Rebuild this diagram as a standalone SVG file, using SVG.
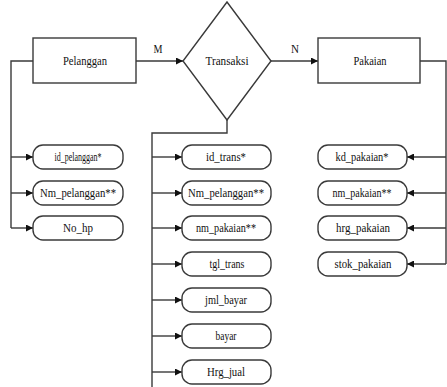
<svg xmlns="http://www.w3.org/2000/svg" width="447" height="387" viewBox="0 0 447 387">
<defs>
<style>
.ln{fill:none;stroke:#3a3a3a;stroke-width:1.4}
.bx{fill:#fff;stroke:#3a3a3a;stroke-width:1.4}
.t{font-family:"Liberation Serif","Times New Roman",serif;font-size:11.5px;fill:#111;text-anchor:middle;dominant-baseline:central}
</style>
<marker id="ar" viewBox="0 0 10 10" refX="10" refY="5" markerWidth="7" markerHeight="7" markerUnits="userSpaceOnUse" orient="auto">
<path d="M0,0 L10,5 L0,10 Z" fill="#111"/>
</marker>
</defs>
<rect width="447" height="387" fill="#fff"/>
<g id="connectors">
<path class="ln" d="M136,61 H183" marker-end="url(#ar)"/>
<path class="ln" d="M271,61 H318" marker-end="url(#ar)"/>
<path class="ln" d="M33,61 H11 V228"/>
<path class="ln" d="M11,157 H33" marker-end="url(#ar)"/>
<path class="ln" d="M11,193 H33" marker-end="url(#ar)"/>
<path class="ln" d="M11,228 H33" marker-end="url(#ar)"/>
<path class="ln" d="M227,120 V133 H152 V387"/>
<path class="ln" d="M152,157 H182" marker-end="url(#ar)"/>
<path class="ln" d="M152,193 H182" marker-end="url(#ar)"/>
<path class="ln" d="M152,228 H182" marker-end="url(#ar)"/>
<path class="ln" d="M152,264 H182" marker-end="url(#ar)"/>
<path class="ln" d="M152,300 H182" marker-end="url(#ar)"/>
<path class="ln" d="M152,336 H182" marker-end="url(#ar)"/>
<path class="ln" d="M152,372 H182" marker-end="url(#ar)"/>
<path class="ln" d="M420,61 H446 V264"/>
<path class="ln" d="M446,157 H407" marker-end="url(#ar)"/>
<path class="ln" d="M446,193 H407" marker-end="url(#ar)"/>
<path class="ln" d="M446,228 H407" marker-end="url(#ar)"/>
<path class="ln" d="M446,264 H407" marker-end="url(#ar)"/>
<text class="t" x="158" y="49" textLength="9" lengthAdjust="spacingAndGlyphs">M</text>
<text class="t" x="295" y="49" textLength="8" lengthAdjust="spacingAndGlyphs">N</text>
</g>
<g id="pelanggan"><rect class="bx" x="33" y="38" width="103" height="45"/><text class="t" x="85" y="61" textLength="44" lengthAdjust="spacingAndGlyphs">Pelanggan</text></g>
<g id="transaksi"><polygon class="bx" points="227,2 271,61 227,120 183,61"/><text class="t" x="227" y="61" textLength="43" lengthAdjust="spacingAndGlyphs">Transaksi</text></g>
<g id="pakaian"><rect class="bx" x="318" y="38" width="102" height="45"/><text class="t" x="370" y="61" textLength="33" lengthAdjust="spacingAndGlyphs">Pakaian</text></g>

<g id="id_pelanggan"><rect class="bx" x="33" y="145" width="90" height="24" rx="10"/><text class="t" x="78" y="157" textLength="47" lengthAdjust="spacingAndGlyphs">id_pelanggan*</text></g>
<g id="nm_pelanggan1"><rect class="bx" x="33" y="181" width="90" height="24" rx="10"/><text class="t" x="78" y="193" textLength="76" lengthAdjust="spacingAndGlyphs">Nm_pelanggan**</text></g>
<g id="no_hp"><rect class="bx" x="33" y="216" width="90" height="24" rx="10"/><text class="t" x="78" y="228" textLength="30" lengthAdjust="spacingAndGlyphs">No_hp</text></g>

<g id="id_trans"><rect class="bx" x="182" y="145" width="89" height="24" rx="10"/><text class="t" x="226" y="157" textLength="40" lengthAdjust="spacingAndGlyphs">id_trans*</text></g>
<g id="nm_pelanggan2"><rect class="bx" x="182" y="181" width="89" height="24" rx="10"/><text class="t" x="226" y="193" textLength="76" lengthAdjust="spacingAndGlyphs">Nm_pelanggan**</text></g>
<g id="nm_pakaian1"><rect class="bx" x="182" y="216" width="89" height="24" rx="10"/><text class="t" x="226" y="228" textLength="60" lengthAdjust="spacingAndGlyphs">nm_pakaian**</text></g>
<g id="tgl_trans"><rect class="bx" x="182" y="252" width="89" height="24" rx="10"/><text class="t" x="227" y="264" textLength="35" lengthAdjust="spacingAndGlyphs">tgl_trans</text></g>
<g id="jml_bayar"><rect class="bx" x="182" y="288" width="89" height="24" rx="10"/><text class="t" x="226" y="300" textLength="42" lengthAdjust="spacingAndGlyphs">jml_bayar</text></g>
<g id="bayar"><rect class="bx" x="182" y="324" width="89" height="24" rx="10"/><text class="t" x="226" y="336" textLength="21" lengthAdjust="spacingAndGlyphs">bayar</text></g>
<g id="hrg_jual"><rect class="bx" x="182" y="360" width="89" height="24" rx="10"/><text class="t" x="226" y="372" textLength="38" lengthAdjust="spacingAndGlyphs">Hrg_jual</text></g>

<g id="kd_pakaian"><rect class="bx" x="318" y="145" width="89" height="24" rx="10"/><text class="t" x="362" y="157" textLength="53" lengthAdjust="spacingAndGlyphs">kd_pakaian*</text></g>
<g id="nm_pakaian2"><rect class="bx" x="318" y="181" width="89" height="24" rx="10"/><text class="t" x="362" y="193" textLength="59" lengthAdjust="spacingAndGlyphs">nm_pakaian**</text></g>
<g id="hrg_pakaian"><rect class="bx" x="318" y="216" width="89" height="24" rx="10"/><text class="t" x="363" y="228" textLength="54" lengthAdjust="spacingAndGlyphs">hrg_pakaian</text></g>
<g id="stok_pakaian"><rect class="bx" x="318" y="252" width="89" height="24" rx="10"/><text class="t" x="363" y="264" textLength="57" lengthAdjust="spacingAndGlyphs">stok_pakaian</text></g>
</svg>
